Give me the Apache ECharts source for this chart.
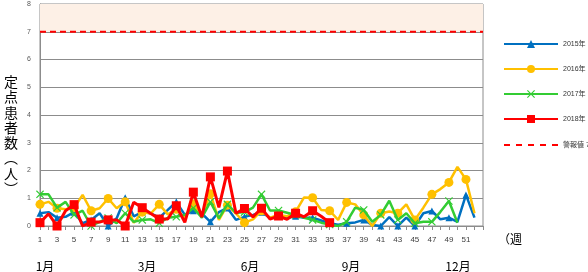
<!DOCTYPE html>
<html><head><meta charset="utf-8">
<script src="https://cdn.jsdelivr.net/npm/echarts@6/dist/echarts.min.js"></script>
<style>html,body{margin:0;padding:0;background:#fff}#c{width:588px;height:272px}</style>
</head><body><div id="c"></div>
<script>
const weeks = Array.from({length:53},(_,i)=>String(i+1));
const y2015 = [0.46,0.5,0.3,0.33,0.5,0.1,0.22,0.46,0.0,0.28,1.02,0.35,0.5,0.46,0.3,0.58,0.87,0.4,0.55,0.45,0.15,0.5,0.65,0.22,0.33,0.4,0.5,0.3,0.35,0.3,0.35,0.3,0.3,0.2,0.1,0.05,0.1,0.13,0.22,0.04,0.0,0.32,0.0,0.3,0.0,0.46,0.54,0.24,0.3,0.15,1.12,0.3];
const y2016 = [0.78,0.87,0.64,0.6,0.66,1.12,0.55,0.64,0.99,0.64,0.87,0.12,0.5,0.45,0.78,0.42,0.6,0.3,0.8,0.35,1.16,0.22,0.75,0.45,0.12,0.24,0.55,0.3,0.4,0.35,0.51,1.03,1.02,0.58,0.55,0.22,0.85,0.78,0.4,0.0,0.46,0.52,0.46,0.78,0.22,0.66,1.14,1.33,1.57,2.13,1.68,0.46];
const y2017 = [1.14,1.14,0.66,0.87,0.4,0.55,0.0,0.15,0.29,0.1,0.46,0.15,0.22,0.24,0.1,0.3,0.33,0.4,0.65,0.3,0.87,0.28,0.78,0.47,0.5,0.66,1.14,0.56,0.56,0.48,0.4,0.3,0.22,0.12,0.05,0.0,0.15,0.66,0.58,0.15,0.4,0.91,0.22,0.46,0.1,0.15,0.15,0.51,0.9,0.12];
const y2018 = [0.12,0.44,0.0,0.55,0.77,0.0,0.14,0.14,0.22,0.22,0.0,0.86,0.66,0.45,0.25,0.25,0.73,0.13,1.22,0.32,1.77,0.67,1.98,0.46,0.63,0.33,0.64,0.25,0.36,0.24,0.46,0.33,0.55,0.35,0.12];
const alarmLevel = 7;
const alarmSpan = ['1','53'];
const yMax = 8;
const seriesNames = ['2015年','2016年','2017年','2018年','警報値 7'];
const monthLabels = ['1月','3月','6月','9月','12月'];
const monthX = [45,147,250,351,458];

const xSym = 'path://M0,1 L1,0 L5,4 L9,0 L10,1 L6,5 L10,9 L9,10 L5,6 L1,10 L0,9 L4,5 Z';
const dashIcon = 'path://M0,0h0.01v0.01h-0.01z M0,4h6v2h-6z M12,4h6v2h-6z M24,4h6v2h-6z M36,4h6v2h-6z M48,4h6v2h-6z M53.99,9.99h0.01v0.01h-0.01z';
const chart = echarts.init(document.getElementById('c'), null, {renderer:'canvas'});
const font = '"Liberation Sans", "Noto Sans CJK JP", sans-serif';
chart.setOption({
  animation:false,
  textStyle:{fontFamily:font},
  grid:{left:40,right:105,top:4,bottom:46,show:true,borderColor:'#8c8c8c',borderWidth:1,backgroundColor:'transparent'},
  legend:{
    orient:'vertical', left:498, top:35, width:90, itemWidth:54, itemHeight:10, itemGap:17,
    textStyle:{fontSize:7,color:'#333',fontFamily:font},
    data:seriesNames.map((n,i)=>i===4?{name:n,icon:dashIcon}:n)
  },
  xAxis:{
    type:'category', data:weeks, boundaryGap:false,
    axisLine:{lineStyle:{color:'#8c8c8c',width:1}},
    axisTick:{show:true,interval:0,length:4,lineStyle:{color:'#8c8c8c'}},
    axisLabel:{interval:1,fontSize:8,color:'#404040',margin:10,formatter:v=>v==='53'?'':v},
    splitLine:{show:false}
  },
  yAxis:{
    type:'value', min:0, max:yMax, interval:1,
    axisLine:{show:true,lineStyle:{color:'#8c8c8c'}},
    axisTick:{show:false},
    axisLabel:{fontSize:7,color:'#595959',margin:9},
    splitLine:{lineStyle:{color:'#8c8c8c',width:1}}
  },
  graphic:[
    {type:'text',left:498,top:233,style:{text:'（週',fontSize:12,fill:'#000',fontFamily:'"Noto Sans CJK JP"'}},
    {type:'text',left:4,top:74,style:{text:'定\n点\n患\n者\n数\n︵\n人\n︶',fontSize:14,lineHeight:15.3,fill:'#000',fontFamily:'"Noto Sans CJK JP"'}},
    ...monthLabels.map((t,i)=>({type:'text',x:monthX[i],y:266,style:{text:t,fontSize:12,fill:'#000',align:'center',verticalAlign:'middle',fontFamily:'"Noto Sans CJK JP"'}}))
  ],
  series:[
    {name:seriesNames[4],type:'line',data:alarmSpan.map(w=>[w,alarmLevel]),symbol:'none',showSymbol:false,
     lineStyle:{color:'#ff0000',width:2,type:[6,4]},itemStyle:{color:'#ff0000'},
     markArea:{silent:true,itemStyle:{color:'#fdf0e6'},data:[[{yAxis:alarmLevel},{yAxis:yMax}]]},
     z:1},
    {name:seriesNames[0],type:'line',data:y2015,symbol:'triangle',symbolSize:7,
     lineStyle:{color:'#0070c0',width:2.5},itemStyle:{color:'#0070c0'},z:2},
    {name:seriesNames[1],type:'line',data:y2016,symbol:'circle',symbolSize:9,
     lineStyle:{color:'#ffc000',width:2.5},itemStyle:{color:'#ffc000'},z:3},
    {name:seriesNames[2],type:'line',data:y2017,symbol:xSym,symbolSize:8,
     lineStyle:{color:'#33cc33',width:2.5},itemStyle:{color:'#33cc33'},z:4},
    {name:seriesNames[3],type:'line',data:y2018,symbol:'rect',symbolSize:9,
     lineStyle:{color:'#ff0000',width:3},itemStyle:{color:'#ff0000'},z:5}
  ]
});
</script></body></html>
